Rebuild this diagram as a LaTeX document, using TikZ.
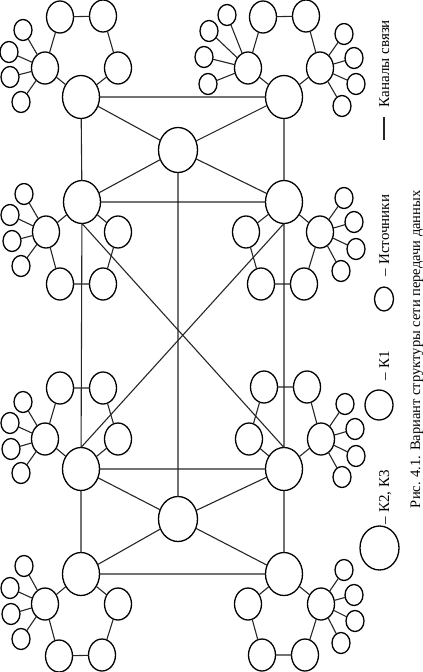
\documentclass[tikz,border=0pt]{standalone}
\usepackage{fontspec}
\setmainfont{Liberation Serif}
\usetikzlibrary{shapes.geometric}

\begin{document}
\begin{tikzpicture}[
  x=1pt, y=-1pt,
  every node/.style={inner sep=0pt, outer sep=0pt},
  kbig/.style={ellipse, draw, line width=1.3pt, minimum width=37pt, minimum height=43pt},
  hub/.style={kbig, minimum width=39pt, minimum height=45pt},
  kone/.style={ellipse, draw, line width=1.3pt, minimum width=27pt, minimum height=32pt},
  src/.style={ellipse, draw, line width=1.3pt, minimum width=18pt, minimum height=21pt},
  chan/.style={line width=1.1pt, black!85},
  lbl/.style={rotate=90, anchor=base west, font=\fontsize{15}{18}\selectfont}
]
\useasboundingbox (0,0) rectangle (423,672);

% K2, K3 backbone
\node[kbig] (l1) at (81,97) {};
\node[kbig] (r1) at (284,97) {};
\node[kbig] (l2) at (82,202) {};
\node[kbig] (r2) at (284,202) {};
\node[kbig] (l3) at (81,469) {};
\node[kbig] (r3) at (284,469) {};
\node[kbig] (l4) at (81,574) {};
\node[kbig] (r4) at (284,574) {};
\node[hub] (ct) at (178,150) {};
\node[hub] (cb) at (178,519) {};

\draw[chan] (l1) -- (r1) (l1) -- (ct) (r1) -- (ct) (l1) -- (l2) (r1) -- (r2)
  (l2) -- (ct) (r2) -- (ct) (l2) -- (r2) (ct) -- (cb);
\draw[chan] (l2.south) -- (r3.north) (r2.south) -- (l3.north)
  (l2) -- (l3) (r2) -- (r3) (l3) -- (r3);
\draw[chan] (l3) -- (cb) (r3) -- (cb) (l3) -- (l4) (r3) -- (r4)
  (l4) -- (r4) (l4) -- (cb) (r4) -- (cb);

% cluster l1
\node[kone] (l1a) at (45,68) {};
\node[kone] (l1b) at (60,17) {};
\node[kone] (l1c) at (103,16) {};
\node[kone] (l1d) at (118,68) {};
\node[src] (l1a1) at (23,30) {};
\node[src] (l1a2) at (9,52) {};
\node[src] (l1a3) at (10,77) {};
\node[src] (l1a4) at (21,102) {};
\draw[chan] (l1) -- (l1a) -- (l1b) -- (l1c) -- (l1d) -- (l1)
  (l1a) -- (l1a1) (l1a) -- (l1a2) (l1a) -- (l1a3) (l1a) -- (l1a4);

% cluster r1
\node[kone] (r1a) at (248,68) {};
\node[kone] (r1b) at (263,17) {};
\node[kone] (r1c) at (306,16) {};
\node[kone] (r1d) at (320,68) {};
\node[src] (r1a1) at (227,15) {};
\node[src] (r1a2) at (209,31) {};
\node[src] (r1a3) at (204,57) {};
\node[src] (r1a4) at (208,84) {};
\node[src] (r1d1) at (344,34) {};
\node[src] (r1d2) at (354,58) {};
\node[src] (r1d3) at (356,84) {};
\node[src] (r1d4) at (342,106) {};
\draw[chan] (r1) -- (r1a) -- (r1b) -- (r1c) -- (r1d) -- (r1)
  (r1a) -- (r1a1) (r1a) -- (r1a2) (r1a) -- (r1a3) (r1a) -- (r1a4)
  (r1d) -- (r1d1) (r1d) -- (r1d2) (r1d) -- (r1d3) (r1d) -- (r1d4);

% cluster l2
\node[kone] (l2a) at (46,232) {};
\node[kone] (l2b) at (60,284) {};
\node[kone] (l2c) at (103,284) {};
\node[kone] (l2d) at (118,232) {};
\node[src] (l2a1) at (24,194) {};
\node[src] (l2a2) at (10,215) {};
\node[src] (l2a3) at (12,241) {};
\node[src] (l2a4) at (21,266) {};
\draw[chan] (l2) -- (l2a) -- (l2b) -- (l2c) -- (l2d) -- (l2)
  (l2a) -- (l2a1) (l2a) -- (l2a2) (l2a) -- (l2a3) (l2a) -- (l2a4);

% cluster r2
\node[kone] (r2a) at (246,232) {};
\node[kone] (r2b) at (261,284) {};
\node[kone] (r2c) at (304,284) {};
\node[kone] (r2d) at (320,232) {};
\node[src] (r2d1) at (344,198) {};
\node[src] (r2d2) at (354,222) {};
\node[src] (r2d3) at (356,249) {};
\node[src] (r2d4) at (341,271) {};
\draw[chan] (r2) -- (r2a) -- (r2b) -- (r2c) -- (r2d) -- (r2)
  (r2d) -- (r2d1) (r2d) -- (r2d2) (r2d) -- (r2d3) (r2d) -- (r2d4);

% cluster l3
\node[kone] (l3a) at (45,439) {};
\node[kone] (l3b) at (60,388) {};
\node[kone] (l3c) at (103,388) {};
\node[kone] (l3d) at (118,439) {};
\node[src] (l3a1) at (23,402) {};
\node[src] (l3a2) at (10,423) {};
\node[src] (l3a3) at (11,449) {};
\node[src] (l3a4) at (21,473) {};
\draw[chan] (l3) -- (l3a) -- (l3b) -- (l3c) -- (l3d) -- (l3)
  (l3a) -- (l3a1) (l3a) -- (l3a2) (l3a) -- (l3a3) (l3a) -- (l3a4);

% cluster r3
\node[kone] (r3a) at (249,439) {};
\node[kone] (r3b) at (264,387) {};
\node[kone] (r3c) at (307,387) {};
\node[kone] (r3d) at (321,439) {};
\node[src] (r3d1) at (345,404) {};
\node[src] (r3d2) at (355,429) {};
\node[src] (r3d3) at (356,456) {};
\node[src] (r3d4) at (342,477) {};
\draw[chan] (r3) -- (r3a) -- (r3b) -- (r3c) -- (r3d) -- (r3)
  (r3d) -- (r3d1) (r3d) -- (r3d2) (r3d) -- (r3d3) (r3d) -- (r3d4);

% cluster l4
\node[kone] (l4a) at (45,604) {};
\node[kone] (l4b) at (59,656) {};
\node[kone] (l4c) at (102,655) {};
\node[kone] (l4d) at (118,604) {};
\node[src] (l4a1) at (24,566) {};
\node[src] (l4a2) at (10,588) {};
\node[src] (l4a3) at (11,614) {};
\node[src] (l4a4) at (21,639) {};
\draw[chan] (l4) -- (l4a) -- (l4b) -- (l4c) -- (l4d) -- (l4)
  (l4a) -- (l4a1) (l4a) -- (l4a2) (l4a) -- (l4a3) (l4a) -- (l4a4);

% cluster r4
\node[kone] (r4a) at (248,604) {};
\node[kone] (r4b) at (262,655) {};
\node[kone] (r4c) at (305,655) {};
\node[kone] (r4d) at (321,604) {};
\node[src] (r4d1) at (344,570) {};
\node[src] (r4d2) at (354,595) {};
\node[src] (r4d3) at (355,621) {};
\node[src] (r4d4) at (341,643) {};
\draw[chan] (r4) -- (r4a) -- (r4b) -- (r4c) -- (r4d) -- (r4)
  (r4d) -- (r4d1) (r4d) -- (r4d2) (r4d) -- (r4d3) (r4d) -- (r4d4);

% legend
\node[kbig, minimum width=39pt, minimum height=44pt] (lgk23) at (379.5,548) {};
\node[lbl] (lgk23txt) at (389,524) {– К2, К3};
\node[kone, minimum width=28pt, minimum height=30pt] (lgk1) at (379,405) {};
\node[lbl] (lgk1txt) at (389,380) {– К1};
\node[src, minimum width=19pt, minimum height=24pt] (lgsrc) at (384,299) {};
\node[lbl] (lgsrctxt) at (389,276) {– Источники};
\coordinate (lgch1) at (384,140);
\coordinate (lgch2) at (384,117);
\draw[chan] (lgch1) -- (lgch2);
\node[lbl] (lgchtxt) at (389,107) {Каналы связи};
\node[lbl, font=\fontsize{14.5}{16}\selectfont] (caption) at (420,508) {Рис. 4.1. Вариант структуры сети передачи данных};
\end{tikzpicture}
\end{document}
